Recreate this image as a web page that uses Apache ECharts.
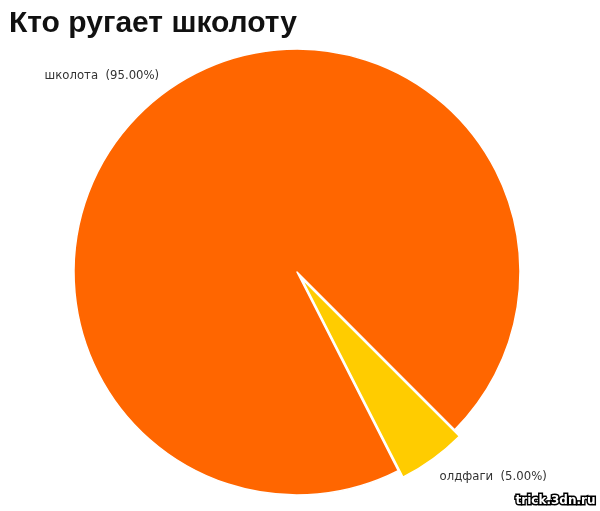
<!DOCTYPE html>
<html><head><meta charset="utf-8">
<script src="https://cdn.jsdelivr.net/npm/echarts@6/dist/echarts.min.js"></script>
<style>html,body{margin:0;padding:0;background:#fff}#c{width:600px;height:511px}</style>
</head><body><div id="c"></div>
<script>
var titleText = 'Кто ругает школоту';
var categories = ['олдфаги', 'школота'];
var values = [5, 95];
var colors = ['#FFCC00', '#FF6600'];
var chart = echarts.init(document.getElementById('c'));
chart.setOption({
  animation: false,
  title: {text: titleText, left: 4, top: 4, textStyle: {fontFamily: 'Liberation Sans', fontWeight: 'bold', fontSize: 30, color: '#111'}},
  graphic: [{type: 'text', right: 3, bottom: 3, style: {text: 'trick.3dn.ru', font: 'bold 12px "DejaVu Sans"', fill: '#fff', stroke: '#000', lineWidth: 3}}],
  series: [{
    type: 'pie',
    center: [297, 272],
    radius: [0, 223],
    startAngle: -45,
    clockwise: true,
    selectedMode: 'single',
    selectedOffset: 8,
    avoidLabelOverlap: false,
    data: categories.map(function (c, i) {
      return {name: c, value: values[i], selected: i === 0, itemStyle: {color: colors[i]}};
    }),
    itemStyle: {borderColor: '#fff', borderWidth: 1.5},
    label: {
      show: true, position: 'outside', distanceToLabelLine: 0, padding: [4, 0, 0, 0],
      formatter: function (p) { return p.name + '  (' + p.percent.toFixed(2) + '%)'; },
      fontFamily: 'DejaVu Sans', fontSize: 11.7, color: '#333'
    },
    labelLine: {show: false, length: 20, length2: 0},
    labelLayout: function (p) {
      return p.dataIndex === 0 ? {dx: -5, dy: 2} : {dx: 5, dy: 1};
    },
    percentPrecision: 2
  }]
});
</script></body></html>
